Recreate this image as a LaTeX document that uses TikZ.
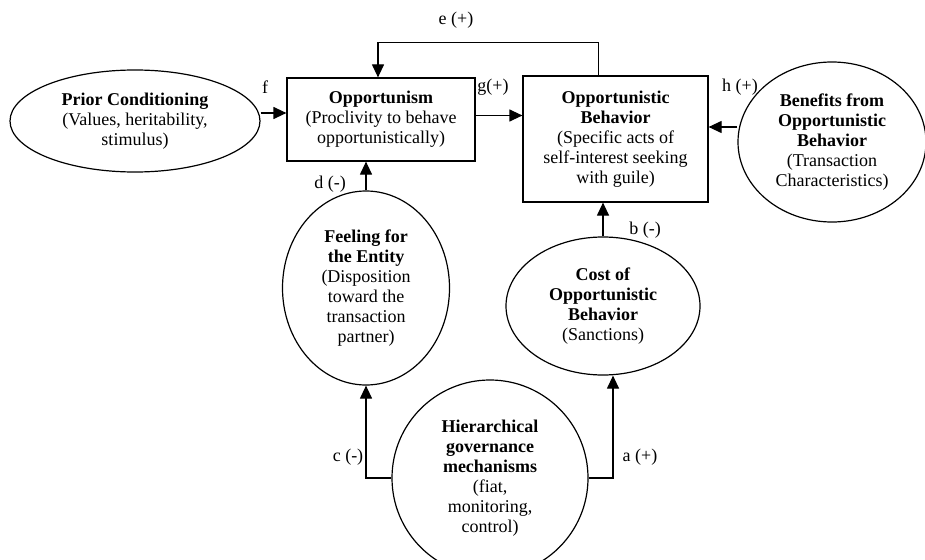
\documentclass[tikz,border=0pt]{standalone}
\usepackage{fontspec}
\setmainfont{Liberation Serif}
\usetikzlibrary{arrows.meta,shapes.geometric}
\tikzset{
    every node/.style={align=center, inner sep=0pt,
    	font=\fontsize{18}{20}\selectfont}
}
\tikzset{
    oval/.style={ellipse, draw, line width=1.2pt},
    box/.style={rectangle, draw, line width=1.2pt},
    arr/.style={-{Triangle[length=13pt,width=12pt]}, line width=1.2pt}
}

\begin{document}
\begin{tikzpicture}[x=1pt,y=-1pt]
	\useasboundingbox (0,0) rectangle (925,559);
	\node (prior) [oval, minimum width=250, minimum height=102] at (135,121)
		{\textbf{Prior Conditioning}\\(Values, heritability,\\stimulus)};
	\node (opp) [box, minimum width=188, minimum height=83] at (381,119.5)
		{\textbf{Opportunism}\\(Proclivity to behave\\opportunistically)};
	\node (ob) [box, minimum width=185, minimum height=126] at (615.5,139)
		{\textbf{Opportunistic}\\\textbf{Behavior}\\(Specific acts of\\self-interest seeking\\with guile)};
	\node (ben) [oval, minimum width=188, minimum height=160] at (832,142)
		{\textbf{Benefits from}\\\textbf{Opportunistic}\\\textbf{Behavior}\\(Transaction\\Characteristics)};
	\node (feel) [oval, minimum width=167, minimum height=194] at (366,288)
		{\textbf{Feeling for}\\\textbf{the Entity}\\(Disposition\\toward the\\transaction\\partner)};
	\node (cost) [oval, minimum width=194, minimum height=138] at (603,306)
		{\textbf{Cost of}\\\textbf{Opportunistic}\\\textbf{Behavior}\\(Sanctions)};
	\node (hier) [oval, minimum width=196, minimum height=196] at (490,478)
		{\textbf{Hierarchical}\\\textbf{governance}\\\textbf{mechanisms}\\(fiat,\\monitoring,\\control)};

	\node (le) at (456,20) {e (+)};
	\node (lf) at (265,87) {f};
	\node (lg) at (493,87) {g(+)};
	\node (lh) at (740,87) {h (+)};
	\node (ld) at (330,184) {d (-)};
	\node (lb) at (645,230) {b (-)};
	\node (lc) at (348,457) {c (-)};
	\node (la) at (640,457) {a (+)};

	\draw[arr] ([yshift=8pt]prior.east) -- ([yshift=8pt]prior.east -| opp.west);
	\draw[arr] ([yshift=4pt]opp.east) -- ([yshift=4pt]opp.east -| ob.west);
	\draw[arr] ([yshift=15pt]ben.west) -- ([yshift=15pt]ben.west -| ob.east);
	\draw[arr] ([xshift=-17pt]ob.north) -- ++(0,-33) -| ([xshift=-3pt]opp.north);
	\draw[arr] (feel.north) -- (feel.north |- opp.south);
	\draw[arr] (cost.north) -- (cost.north |- ob.south);
	\draw[arr] (hier.west) -| (feel.south);
	\draw[arr] (hier.east) -| ([xshift=10pt]cost.south);
\end{tikzpicture}
\end{document}
